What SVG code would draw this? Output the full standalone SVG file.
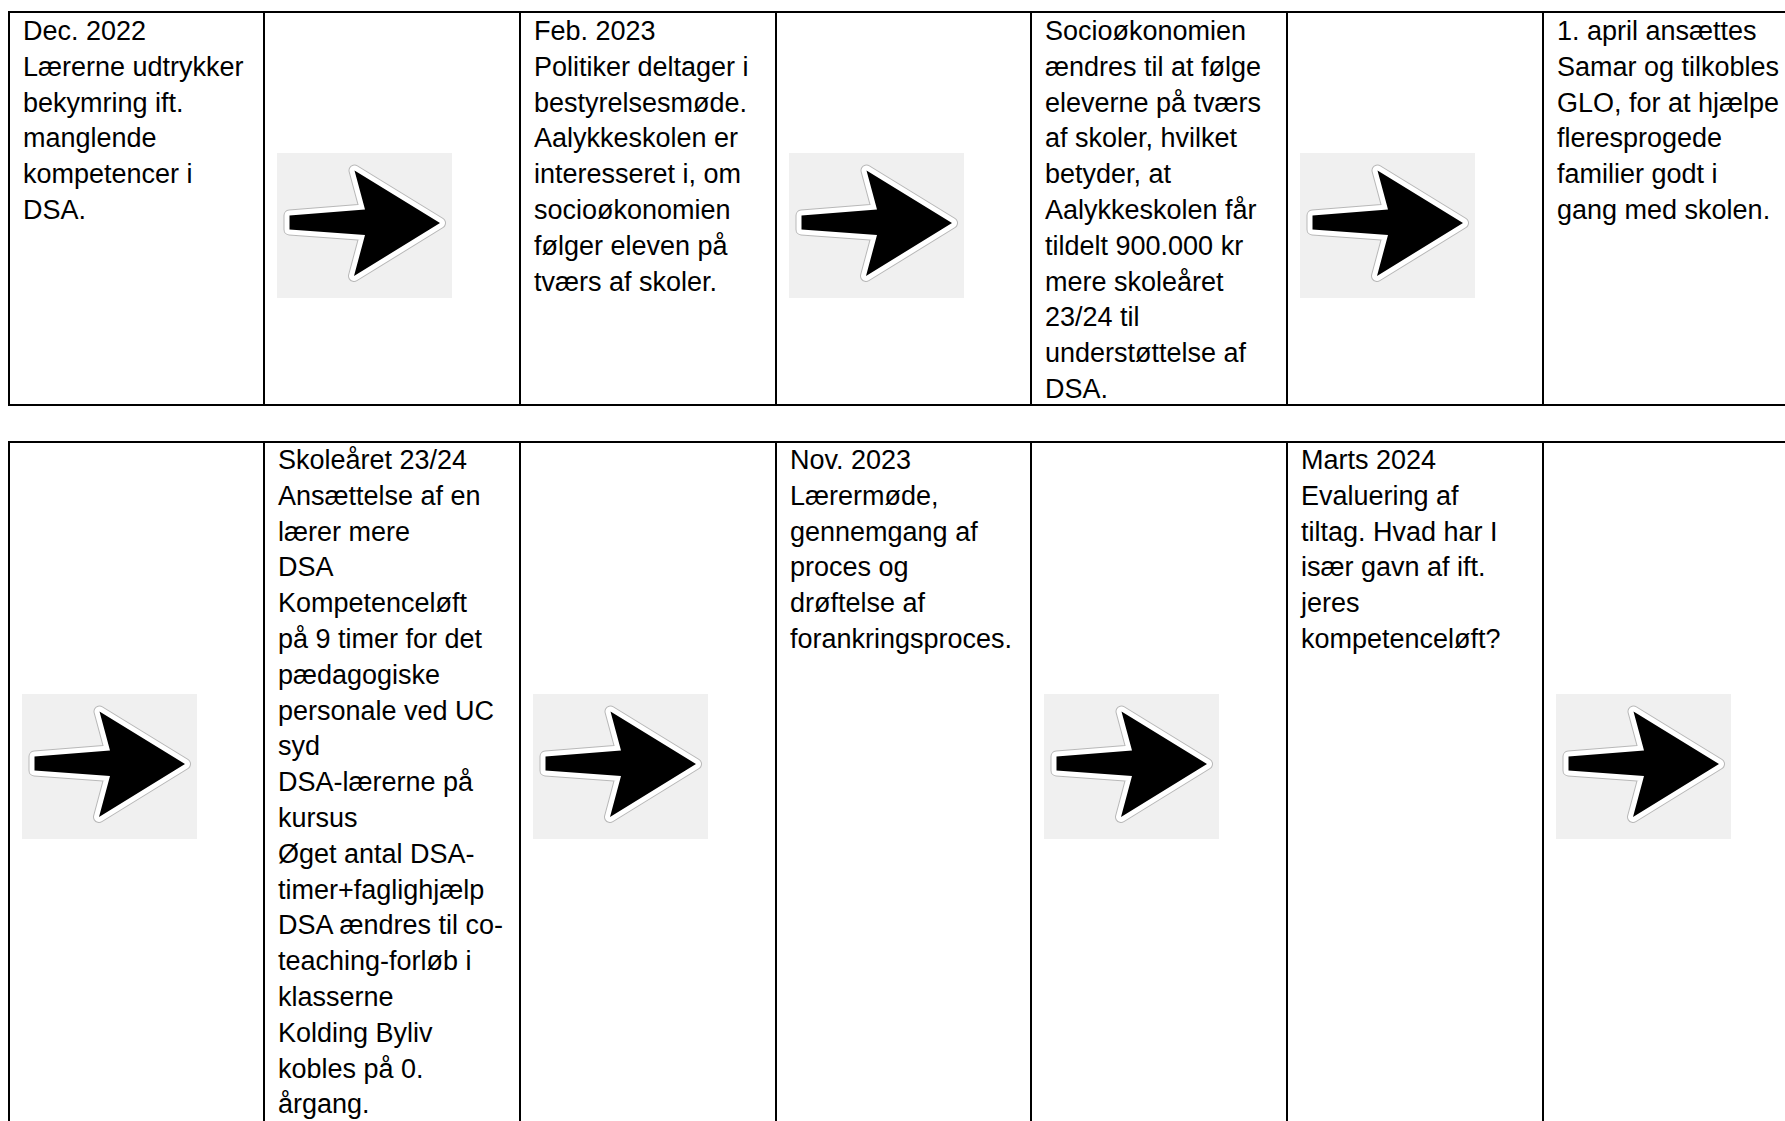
<svg xmlns="http://www.w3.org/2000/svg" xmlns:xlink="http://www.w3.org/1999/xlink" width="1785" height="1121" viewBox="0 0 1785 1121">
  <style>
    .grid { stroke: #000; stroke-width: 2; fill: none; }
    .t { font-family: "Liberation Sans", Arial, sans-serif; font-size: 27px; fill: #000; }
    .bg { fill: #f0f0f0; }
    .halo { fill: none; stroke: #b8b8b8; stroke-width: 12; stroke-linejoin: round; }
    .rim { fill: #fff; stroke: #fff; stroke-width: 10; stroke-linejoin: round; }
    .core { fill: #000; }
  </style>
  <defs>
    <g id="arrowIcon">
      <rect class="bg" x="0" y="0" width="175" height="145"/>
      <polygon class="halo" points="77.5,17.5 163,70 77,123 88,82 12.5,76.5 12.5,62.5 88,56.5"/>
      <polygon class="rim" points="77.5,17.5 163,70 77,123 88,82 12.5,76.5 12.5,62.5 88,56.5"/>
      <polygon class="core" points="77.5,17.5 163,70 77,123 88,82 12.5,76.5 12.5,62.5 88,56.5"/>
    </g>
  </defs>
  <rect width="1785" height="1121" fill="#fff"/>

  <g id="table-grid">
    <line class="grid" x1="8" y1="12" x2="1785" y2="12"/>
    <line class="grid" x1="8" y1="405" x2="1785" y2="405"/>
    <line class="grid" x1="9" y1="11" x2="9" y2="406"/>
    <line class="grid" x1="264" y1="12" x2="264" y2="405"/>
    <line class="grid" x1="520" y1="12" x2="520" y2="405"/>
    <line class="grid" x1="776" y1="12" x2="776" y2="405"/>
    <line class="grid" x1="1031" y1="12" x2="1031" y2="405"/>
    <line class="grid" x1="1287" y1="12" x2="1287" y2="405"/>
    <line class="grid" x1="1543" y1="12" x2="1543" y2="405"/>

    <line class="grid" x1="8" y1="442" x2="1785" y2="442"/>
    <line class="grid" x1="9" y1="441" x2="9" y2="1121"/>
    <line class="grid" x1="264" y1="442" x2="264" y2="1121"/>
    <line class="grid" x1="520" y1="442" x2="520" y2="1121"/>
    <line class="grid" x1="776" y1="442" x2="776" y2="1121"/>
    <line class="grid" x1="1031" y1="442" x2="1031" y2="1121"/>
    <line class="grid" x1="1287" y1="442" x2="1287" y2="1121"/>
    <line class="grid" x1="1543" y1="442" x2="1543" y2="1121"/>
  </g>

  <g id="node-dec2022">
    <text class="t" x="23" y="40">
      <tspan x="23" y="40">Dec. 2022</tspan>
      <tspan x="23" y="75.8">Lærerne udtrykker</tspan>
      <tspan x="23" y="111.6">bekymring ift.</tspan>
      <tspan x="23" y="147.4">manglende</tspan>
      <tspan x="23" y="183.2">kompetencer i</tspan>
      <tspan x="23" y="219">DSA.</tspan>
    </text>
  </g>

  <g id="node-feb2023">
    <text class="t" x="534" y="40">
      <tspan x="534" y="40">Feb. 2023</tspan>
      <tspan x="534" y="75.8">Politiker deltager i</tspan>
      <tspan x="534" y="111.6">bestyrelsesmøde.</tspan>
      <tspan x="534" y="147.4">Aalykkeskolen er</tspan>
      <tspan x="534" y="183.2">interesseret i, om</tspan>
      <tspan x="534" y="219">socioøkonomien</tspan>
      <tspan x="534" y="254.8">følger eleven på</tspan>
      <tspan x="534" y="290.6">tværs af skoler.</tspan>
    </text>
  </g>

  <g id="node-socio">
    <text class="t" x="1045" y="40">
      <tspan x="1045" y="40">Socioøkonomien</tspan>
      <tspan x="1045" y="75.8">ændres til at følge</tspan>
      <tspan x="1045" y="111.6">eleverne på tværs</tspan>
      <tspan x="1045" y="147.4">af skoler, hvilket</tspan>
      <tspan x="1045" y="183.2">betyder, at</tspan>
      <tspan x="1045" y="219">Aalykkeskolen får</tspan>
      <tspan x="1045" y="254.8">tildelt 900.000 kr</tspan>
      <tspan x="1045" y="290.6">mere skoleåret</tspan>
      <tspan x="1045" y="326.4">23/24 til</tspan>
      <tspan x="1045" y="362.2">understøttelse af</tspan>
      <tspan x="1045" y="398">DSA.</tspan>
    </text>
  </g>

  <g id="node-april">
    <text class="t" x="1557" y="40">
      <tspan x="1557" y="40">1. april ansættes</tspan>
      <tspan x="1557" y="75.8">Samar og tilkobles</tspan>
      <tspan x="1557" y="111.6">GLO, for at hjælpe</tspan>
      <tspan x="1557" y="147.4">fleresprogede</tspan>
      <tspan x="1557" y="183.2">familier godt i</tspan>
      <tspan x="1557" y="219">gang med skolen.</tspan>
    </text>
  </g>

  <g id="node-skoleaaret">
    <text class="t" x="278" y="469">
      <tspan x="278" y="469">Skoleåret 23/24</tspan>
      <tspan x="278" y="504.8">Ansættelse af en</tspan>
      <tspan x="278" y="540.6">lærer mere</tspan>
      <tspan x="278" y="576.4">DSA</tspan>
      <tspan x="278" y="612.2">Kompetenceløft</tspan>
      <tspan x="278" y="648">på 9 timer for det</tspan>
      <tspan x="278" y="683.8">pædagogiske</tspan>
      <tspan x="278" y="719.6">personale ved UC</tspan>
      <tspan x="278" y="755.4">syd</tspan>
      <tspan x="278" y="791.2">DSA-lærerne på</tspan>
      <tspan x="278" y="827">kursus</tspan>
      <tspan x="278" y="862.8">Øget antal DSA-</tspan>
      <tspan x="278" y="898.6">timer+faglighjælp</tspan>
      <tspan x="278" y="934.4">DSA ændres til co-</tspan>
      <tspan x="278" y="970.2">teaching-forløb i</tspan>
      <tspan x="278" y="1006">klasserne</tspan>
      <tspan x="278" y="1041.8">Kolding Byliv</tspan>
      <tspan x="278" y="1077.6">kobles på 0.</tspan>
      <tspan x="278" y="1113.4">årgang.</tspan>
    </text>
  </g>

  <g id="node-nov2023">
    <text class="t" x="790" y="469">
      <tspan x="790" y="469">Nov. 2023</tspan>
      <tspan x="790" y="504.8">Lærermøde,</tspan>
      <tspan x="790" y="540.6">gennemgang af</tspan>
      <tspan x="790" y="576.4">proces og</tspan>
      <tspan x="790" y="612.2">drøftelse af</tspan>
      <tspan x="790" y="648">forankringsproces.</tspan>
    </text>
  </g>

  <g id="node-marts2024">
    <text class="t" x="1301" y="469">
      <tspan x="1301" y="469">Marts 2024</tspan>
      <tspan x="1301" y="504.8">Evaluering af</tspan>
      <tspan x="1301" y="540.6">tiltag. Hvad har I</tspan>
      <tspan x="1301" y="576.4">især gavn af ift.</tspan>
      <tspan x="1301" y="612.2">jeres</tspan>
      <tspan x="1301" y="648">kompetenceløft?</tspan>
    </text>
  </g>

  <g id="connectors">
    <use xlink:href="#arrowIcon" href="#arrowIcon" x="277" y="153"/>
    <use xlink:href="#arrowIcon" href="#arrowIcon" x="789" y="153"/>
    <use xlink:href="#arrowIcon" href="#arrowIcon" x="1300" y="153"/>
    <use xlink:href="#arrowIcon" href="#arrowIcon" x="22" y="694"/>
    <use xlink:href="#arrowIcon" href="#arrowIcon" x="533" y="694"/>
    <use xlink:href="#arrowIcon" href="#arrowIcon" x="1044" y="694"/>
    <use xlink:href="#arrowIcon" href="#arrowIcon" x="1556" y="694"/>
  </g>
</svg>
